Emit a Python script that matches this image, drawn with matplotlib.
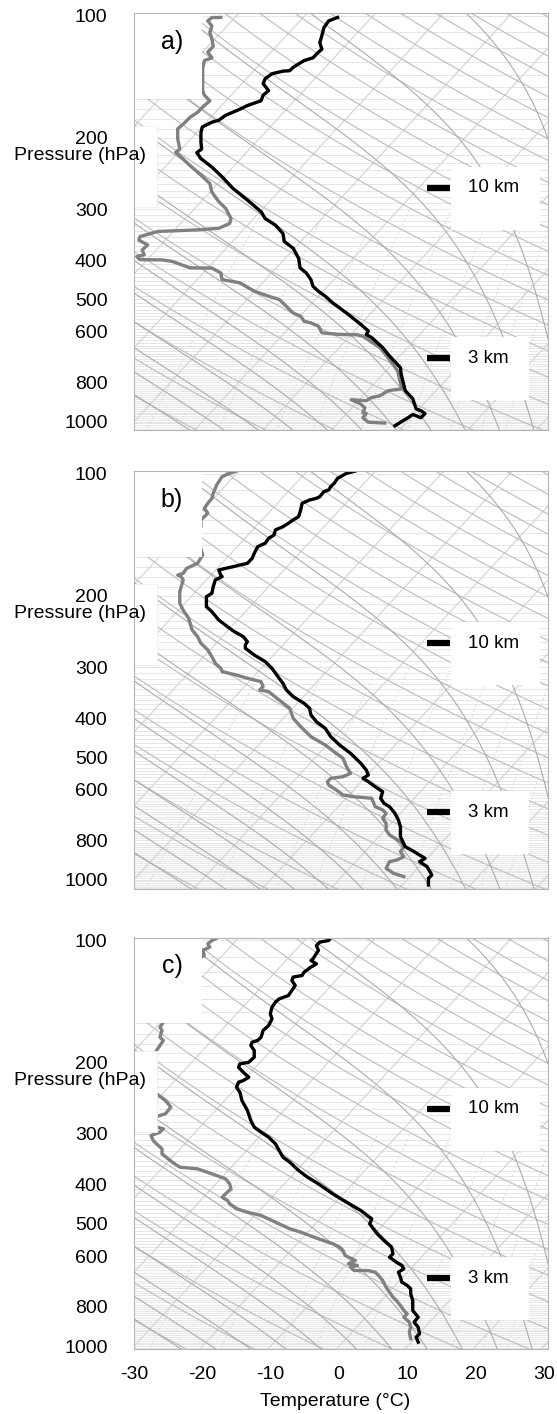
"""
Three skew-T soundings (a, b, c): temperature (black) and dew point (grey).
"""

import numpy as np
import matplotlib.pyplot as plt
from matplotlib.patches import Rectangle

plt.rcParams['font.family'] = ['Liberation Sans', 'DejaVu Sans']
plt.rcParams['axes.unicode_minus'] = False

# Sounding data (x = skewed temperature [°C], p [hPa])
# ----------------------------------------------------------------------------

temp_a_p = [101, 103, 107, 112, 116.5, 121, 123, 127, 129, 134, 136.6, 137, 139, 143, 147,
            153, 157, 162, 166.5, 170, 176, 181, 183, 188, 194, 205, 213, 217.5, 225, 236,
            249.5, 266.5, 284.6, 304, 316, 328, 344, 360, 374, 396, 418, 430, 447, 464, 477.5,
            491, 510, 540, 576, 598, 610, 621, 657, 689, 736, 763, 839, 878, 930, 940,
            955, 978, 960, 978, 1023]
temp_a_t = [-0.2, -1.5, -2.2, -2.5, -2.8, -2.5, -3.0, -3.8, -5.1, -6.7, -7.2, -8.2, -9.8, -10.8, -11.1,
            -10.3, -11.1, -11.4, -13.4, -14.5, -16.6, -17.6, -18.6, -20.0, -20.2, -20.2, -20.1, -20.8, -20.2, -18.6,
            -17.1, -15.5, -13.4, -11.4, -10.8, -9.3, -8.2, -8.0, -6.7, -5.9, -5.7, -4.8, -4.1, -3.8, -3.0,
            -2.0, -0.9, 1.1, 3.2, 4.3, 4.0, 4.8, 6.4, 7.4, 9.0, 9.1, 9.7, 10.8, 11.3, 12.0,
            12.6, 12.0, 10.8, 10.1, 8.2]

dewp_a_p = [101, 101.1, 103, 106, 110, 114, 119, 123, 127, 129, 135, 153, 157, 162, 168,
            173, 178, 185, 190, 201, 213, 217, 223, 234, 247, 259, 272, 287, 298, 316,
            325, 334, 337, 340, 350, 357, 367, 377.5, 388, 392, 399, 399.5, 403, 418, 418.5,
            430, 447, 455, 477, 491, 500, 510, 530, 540, 550, 566, 571, 582, 604, 610,
            611, 616, 657, 689, 750, 830, 839, 863, 873, 888, 883, 903, 924, 951, 955,
            978, 1003, 1008]
dewp_a_t = [-17.3, -18.6, -19.2, -18.6, -18.9, -18.6, -18.4, -19.2, -18.6, -19.7, -19.95, -19.95, -19.7, -18.9, -19.95,
            -20.7, -21.8, -22.8, -23.6, -23.6, -23.3, -23.9, -23.1, -21.8, -20.2, -18.9, -18.6, -17.6, -16.6, -15.8,
            -16.0, -17.6, -20.7, -26.5, -29.1, -29.3, -28.0, -28.8, -28.5, -29.6, -29.1, -25.9, -24.4, -21.8, -18.6,
            -17.3, -17.1, -14.5, -12.4, -10.3, -8.75, -8.2, -7.2, -6.7, -5.6, -5.1, -4.1, -3.0, -2.5, 0.1,
            2.7, 3.5, 6.0, 7.0, 8.6, 9.2, 7.2, 6.0, 4.7, 4.0, 1.8, 3.1, 3.8, 3.5, 4.0,
            3.5, 4.3, 6.7]

temp_b_p = [98.5, 99.8, 102.7, 105.6, 107.6, 109.7, 110.7, 113.9, 115, 116.1, 118.3, 122.9, 127.6, 130, 132.5,
            135.1, 137.6, 141.6, 144.3, 148.4, 151.3, 157.1, 161.6, 166.3, 167.9, 169.5, 171.1, 172.7, 177.7, 179.3,
            182.7, 189.8, 197.1, 200.9, 212.6, 218.8, 229.3, 240.4, 245, 252, 259.3, 264.2, 269.2, 279.6, 290.4,
            301.6, 319.2, 328.4, 341, 354.2, 367.9, 378.4, 393, 408.2, 424, 444.5, 466, 488.5, 517, 537,
            552.4, 562.9, 573.6, 590.1, 607.1, 630.5, 648.6, 661, 686.5, 712.9, 740.4, 783.7, 829.4, 853.1, 886.1,
            903, 928.9, 973.9, 992.4, 1030.6]
temp_b_t = [2.4, 1.1, -0.2, -0.7, -1.2, -1.5, -2.2, -2.8, -3.3, -4.3, -5.4, -5.6, -5.9, -6.7, -7.4,
            -8.2, -9.3, -9.5, -10.3, -10.8, -11.9, -12.4, -12.7, -13.4, -14.5, -15.5, -16.6, -17.6, -17.3, -17.1,
            -18.1, -18.4, -18.6, -19.4, -19.4, -18.6, -17.6, -16.0, -15.3, -14.0, -13.4, -13.7, -13.7, -12.4, -10.8,
            -9.8, -8.75, -8.2, -7.7, -6.7, -5.1, -4.3, -4.1, -3.3, -2.0, -1.2, 0.1, 1.7, 3.2, 4.0,
            4.3, 3.5, 4.3, 5.3, 6.4, 6.1, 6.6, 7.4, 8.2, 8.7, 9.0, 9.0, 9.7, 11.0, 12.6,
            11.8, 12.9, 13.6, 13.1, 13.1]

dewp_b_p = [98.5, 99.8, 101.7, 106.6, 108.7, 111.8, 115, 118.3, 121.7, 125.2, 130, 135.1, 142.9, 158.6, 166.3,
            171.1, 176, 177.7, 179.3, 182.7, 195.2, 208.6, 216.7, 227.2, 242.7, 252, 261.7, 271.8, 282.3, 293.2,
            301.6, 307.4, 313.3, 319.2, 325.3, 334.6, 341, 344.3, 361, 378.4, 400.5, 420, 444.5, 466, 488.5,
            502.5, 526.9, 547.2, 557.6, 562.9, 573.6, 584.6, 601.4, 618.7, 624.6, 630.5, 661, 673.6, 686.5, 706.2,
            726.5, 754.6, 776.3, 806.2, 829.4, 853.1, 877.7, 894.4, 903, 937.7, 964.7, 983.1]
dewp_b_t = [-15.0, -16.0, -17.1, -17.9, -18.1, -18.4, -18.6, -19.2, -19.7, -19.2, -20.2, -20.2, -20.7, -19.95, -20.7,
            -22.3, -22.8, -23.6, -23.1, -22.8, -23.3, -23.3, -22.8, -22.0, -21.5, -20.7, -20.2, -19.2, -18.6, -18.1,
            -17.3, -17.1, -15.0, -13.4, -11.4, -11.1, -11.6, -10.3, -8.75, -7.2, -6.7, -5.6, -4.1, -2.0, -0.4,
            0.6, 1.1, 1.7, 0.6, -1.2, -1.7, -1.5, -0.4, 0.6, 2.2, 4.8, 5.3, 6.4, 6.9, 6.4,
            6.9, 6.9, 7.4, 9.0, 9.5, 9.0, 9.5, 8.5, 7.4, 6.9, 8.0, 9.5]

temp_c_p = [98.3, 100.2, 101.1, 103.1, 106, 109.1, 111.2, 112.2, 114.4, 116.5, 119.9, 122.2, 123.3, 125.7, 129.3,
            133, 136.9, 139.5, 142.1, 146.2, 151.8, 156.2, 162.3, 166.9, 173.4, 176.6, 178.3, 181.7, 186.9, 194.2,
            199.8, 201.7, 205.6, 211.5, 217.6, 221.7, 223.8, 230.2, 236.8, 248.3, 262.7, 278.1, 288.8, 297.1, 305.6,
            317.4, 329.7, 342.4, 352.2, 369.3, 383.5, 398.3, 421.6, 441.9, 463.3, 485.7, 499.7, 514, 528.8, 549.2,
            570.3, 592.3, 603.6, 621, 632.8, 644.9, 657.2, 676.1, 695.6, 708.9, 722.4, 743.2, 771.8, 816.9, 848.3,
            872.8, 897.8, 932.3, 950.1, 977.5]
temp_c_t = [-1.2, -1.5, -2.8, -3.3, -3.0, -3.5, -3.8, -4.1, -3.3, -4.1, -5.1, -5.4, -6.7, -6.9, -6.4,
            -6.9, -7.4, -8.75, -9.3, -9.8, -10.05, -9.8, -10.3, -11.1, -11.4, -11.9, -12.7, -12.9, -12.4, -12.4,
            -13.2, -14.5, -14.7, -14.0, -13.2, -14.0, -14.7, -15.0, -14.5, -14.2, -13.4, -12.9, -12.4, -11.4, -10.3,
            -9.3, -8.75, -8.2, -7.2, -5.9, -4.6, -3.0, -0.9, 1.1, 3.2, 4.8, 4.5, 5.05, 5.6, 6.6,
            7.7, 7.9, 7.4, 8.4, 9.2, 9.5, 8.7, 9.0, 9.2, 10.0, 10.5, 10.5, 10.8, 10.8, 11.6,
            11.0, 11.6, 11.8, 11.3, 11.6]

dewp_c_p = [98.3, 100.2, 102.1, 104.0, 106, 109.1, 111.2, 114.4, 117.6, 119.9, 159.2, 163.8, 166.9, 173.4, 176.6,
            181.7, 186.9, 192.3, 199.8, 205.6, 213.5, 219.6, 225.9, 230.2, 239, 248.3, 257.8, 267.7, 272.9, 280.7,
            288.8, 291.5, 297.1, 302.8, 311.5, 317.4, 326.6, 336, 352.2, 362.3, 365.8, 376.3, 387.1, 398.3, 409.8,
            421.6, 429.6, 437.8, 446.1, 458.9, 467.7, 476.6, 490.3, 499.7, 514, 523.8, 544, 559.6, 570.3, 581.2,
            597.9, 609.3, 615.1, 626.9, 632.8, 638.8, 651, 651.5, 657.2, 669.8, 689, 715.6, 736.2, 757.4, 771.8,
            794, 816.9, 832.5, 848.3, 872.8, 897.8, 923.6, 959.1]
dewp_c_t = [-17.6, -18.6, -19.2, -18.9, -19.95, -19.7, -20.7, -20.5, -20.7, -21.0, -25.7, -26.2, -25.9, -26.2, -25.7,
            -26.2, -26.7, -27.0, -27.8, -27.5, -27.0, -27.5, -27.0, -27.5, -26.7, -25.4, -24.6, -25.4, -27.0, -27.2,
            -26.7, -25.7, -26.2, -27.5, -27.2, -26.7, -25.9, -25.9, -24.4, -23.3, -20.7, -18.6, -16.6, -16.0, -15.8,
            -16.6, -17.1, -16.3, -16.0, -15.0, -13.4, -11.4, -9.8, -8.75, -7.2, -5.6, -3.0, -0.9, 0.1, 0.6,
            0.9, 1.9, 2.4, 1.4, 2.7, 1.7, 2.2, 4.3, 5.3, 5.8, 6.4, 6.9, 7.4, 7.9, 8.4,
            9.0, 9.5, 10.0, 9.5, 10.3, 10.5, 10.3, 10.5]

panel_labels = ['a)', 'b)', 'c)']
level_names = ['10 km', '3 km']
levels_a = [265, 697]
levels_b = [262, 683]
levels_c = [260, 681]

x_ticks = [-30, -20, -10, 0, 10, 20, 30]
p_ticks = [100, 200, 300, 400, 500, 600, 800, 1000]

# Diagram helpers
# ----------------------------------------------------------------------------

SKEW = 55.0          # shift of isotherms per decade of pressure [°C]
X0, X1 = -30, 30.6   # temperature range across the axes
W, H = 557, 1414     # figure size [px]
PX_DEG = (548 - 134) / (X1 - X0)
PX_DEC = 406.0       # pixels per decade of pressure


def skew_x(t, p):
    return t + SKEW * np.log10(1000.0 / p)


def px_t(px):
    return X0 + (px - 134) / PX_DEG


def p_shift(p, dpx):
    return p * 10 ** (dpx / PX_DEC)


def moist_adiabat(t0, p):
    rd, cp, lv, eps = 287.04, 1005.7, 2.501e6, 0.622
    tk = [t0 + 273.15]
    for i in range(1, len(p)):
        t = tk[-1]
        es = 6.112 * np.exp(17.67 * (t - 273.15) / (t - 29.65))
        rs = eps * es / (p[i - 1] - es)
        dtdp = (rd * t + lv * rs) / (cp + lv ** 2 * rs * eps / (rd * t ** 2)) / p[i - 1]
        tk.append(t + dtdp * (p[i] - p[i - 1]))
    return np.array(tk) - 273.15


def draw_background(ax):
    p = np.geomspace(1060, 95, 300)
    for pb in np.arange(100, 1060, 10):
        ax.axhline(pb, color='#e6e6e6', lw=0.7, zorder=0.5)
    for t in np.arange(-160, 60, 10):
        ax.plot(skew_x(t, p), p, color='#d2d2d2', lw=0.8, zorder=1)
    for th in np.arange(230, 500, 10):
        t = th * (p / 1000.0) ** 0.286 - 273.15
        ax.plot(skew_x(t, p), p, color='#bcbcbc', lw=0.8, zorder=1)
    for t0 in np.arange(-20, 45, 5):
        ax.plot(skew_x(moist_adiabat(t0, p), p), p, color='#ababab', lw=0.8, zorder=1)
    pw = p[p >= 300]
    for w in [0.4, 1, 2, 3, 5, 8, 12, 16, 20]:
        e = w / 1000.0 * pw / (0.622 + w / 1000.0)
        td = 243.5 * np.log(e / 6.112) / (17.67 - np.log(e / 6.112))
        ax.plot(skew_x(td, pw), pw, color='#d6d6d6', lw=0.6, ls=(0, (3, 3)), zorder=1)


# Figure
# ----------------------------------------------------------------------------

fig = plt.figure(figsize=(W / 100, H / 100), dpi=100)

panels = [
    (13, 1047, (temp_a_p, temp_a_t), (dewp_a_p, dewp_a_t), levels_a),
    (471, 1055, (temp_b_p, temp_b_t), (dewp_b_p, dewp_b_t), levels_b),
    (937.5, 1017, (temp_c_p, temp_c_t), (dewp_c_p, dewp_c_t), levels_c),
]
p_top = 98.5

for i, (top, p_bot, temp, dewp, levels) in enumerate(panels):
    h = PX_DEC * np.log10(p_bot / p_top)
    ax = fig.add_axes([134 / W, 1 - (top + h) / H, (548 - 134) / W, h / H])
    ax.set_yscale('log')
    ax.set_ylim(p_bot, p_top)
    ax.set_xlim(X0, X1)

    draw_background(ax)

    ax.plot(dewp[1], dewp[0], color='#808080', lw=2.4, zorder=2, solid_joinstyle='round')
    ax.plot(temp[1], temp[0], color='black', lw=2.4, zorder=2.1, solid_joinstyle='round')

    # white label boxes
    ax.add_patch(Rectangle((X0, p_top), px_t(202) - X0, 160 - p_top,
                           facecolor='white', edgecolor='none', zorder=2.2))
    ax.add_patch(Rectangle((X0, 187), px_t(157) - X0, 109,
                           facecolor='white', edgecolor='#eeeeee', lw=0.6, zorder=2.2))
    ax.text(px_t(172), 116, panel_labels[i], fontsize=18, ha='center', va='center', zorder=3)

    for name, lp, right in zip(level_names, levels, [540, 529]):
        ax.add_patch(Rectangle((px_t(451), p_shift(lp, -21)), px_t(right) - px_t(451),
                               p_shift(lp, 42) - p_shift(lp, -21),
                               facecolor='white', edgecolor='none', zorder=2.2))
        ax.plot([px_t(427), px_t(450)], [lp, lp], color='black', lw=4.5,
                solid_capstyle='butt', zorder=2.3)
        ax.text(px_t(468), lp, name, fontsize=13.5, ha='left', va='center', zorder=3)

    for s in ax.spines.values():
        s.set_color('#b5b5b5')
        s.set_linewidth(0.8)
        s.set_zorder(2.5)

    ax.yaxis.set_minor_locator(plt.NullLocator())
    ax.set_yticks(p_ticks)
    ax.set_yticklabels([str(v) for v in p_ticks])
    ax.tick_params(axis='y', length=0, pad=19, labelsize=14)
    ax.set_xticks(x_ticks)
    if i == 2:
        ax.tick_params(axis='x', length=0, pad=12, labelsize=14)
    else:
        ax.tick_params(axis='x', length=0, labelbottom=False)

    fig.text(80 / W, 1 - (top + 143) / H, 'Pressure (hPa)', fontsize=14,
             ha='center', va='center', zorder=3)

fig.text(335 / W, 1 - 1402 / H, 'Temperature (°C)', fontsize=14, ha='center', va='center')

fig.savefig('out.png', dpi=100)
